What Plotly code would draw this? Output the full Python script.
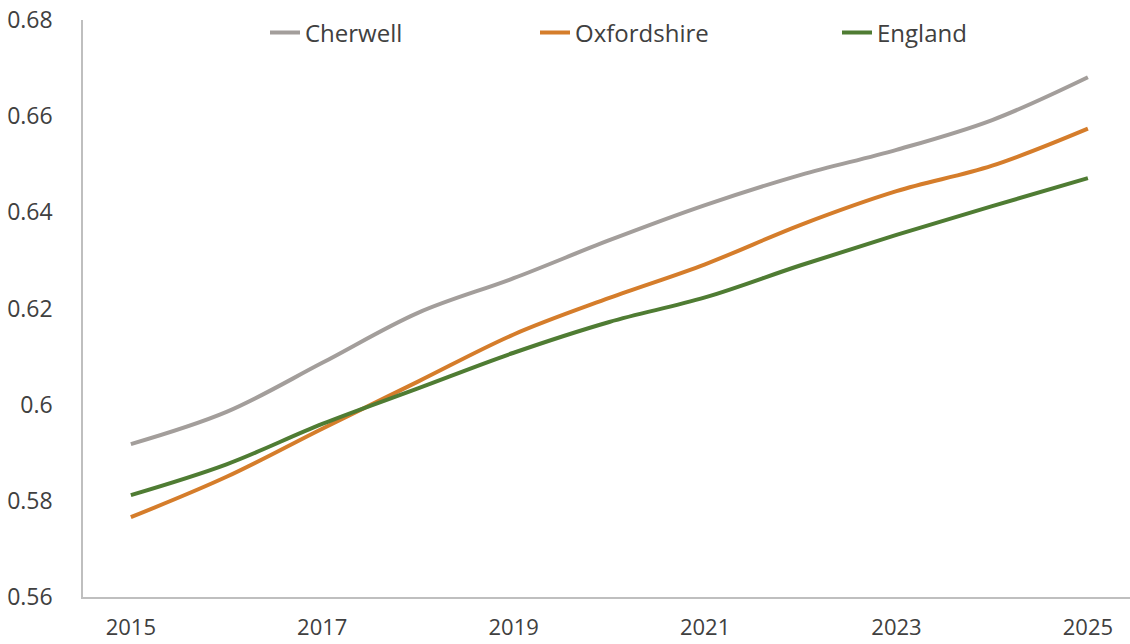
import plotly.graph_objects as go

years = [2015, 2016, 2017, 2018, 2019, 2020, 2021, 2022, 2023, 2024, 2025]
cherwell = [0.5918, 0.5985, 0.6087, 0.6191, 0.6263, 0.6342, 0.6415, 0.6478, 0.6530, 0.6592, 0.6681]
oxfordshire = [0.5766, 0.5850, 0.5950, 0.6048, 0.6146, 0.6222, 0.6292, 0.6374, 0.6444, 0.6497, 0.6574]
england = [0.5812, 0.5876, 0.5960, 0.6034, 0.6108, 0.6172, 0.6223, 0.6290, 0.6353, 0.6413, 0.6471]

series_names = ["Cherwell", "Oxfordshire", "England"]
series_values = [cherwell, oxfordshire, england]
series_colors = ["#A39E9B", "#D57D2B", "#4F7C33"]
legend_ids = ["legend", "legend2", "legend3"]
legend_x_px = [265, 535, 837]

x_tickvals = [2015, 2017, 2019, 2021, 2023, 2025]
y_tickvals = [0.56, 0.58, 0.60, 0.62, 0.64, 0.66, 0.68]
y_ticktext = ["0.56", "0.58", "0.6", "0.62", "0.64", "0.66", "0.68"]

W, H = 1130, 644
FONT = "Open Sans"
TXT = "#404040"

fig = go.Figure()
for name, vals, col, lg in zip(series_names, series_values, series_colors, legend_ids):
    fig.add_trace(go.Scatter(
        x=years, y=vals, name=name, mode="lines",
        line=dict(color=col, width=4, shape="spline", smoothing=1.0),
        legend=lg,
    ))

legend_common = dict(
    orientation="h", xref="container", yref="container",
    yanchor="middle", y=1 - 33 / H, xanchor="left",
    font=dict(family=FONT, size=24, color=TXT),
    bgcolor="rgba(0,0,0,0)", borderwidth=0,
)
layout_legends = {}
for lg, px in zip(legend_ids, legend_x_px):
    layout_legends[lg] = dict(legend_common, x=px / W)

fig.update_layout(
    width=W, height=H,
    margin=dict(l=83, r=0, t=20, b=47, autoexpand=False),
    paper_bgcolor="white", plot_bgcolor="white",
    font=dict(family=FONT, size=23, color=TXT),
    showlegend=True,
    xaxis=dict(
        range=[2014.5, 2025.44], tickmode="array", tickvals=x_tickvals,
        ticktext=[str(v) for v in x_tickvals],
        showgrid=False, zeroline=False, showline=True,
        linecolor="#BFBFBF", linewidth=1.5, ticks="",
        ticklabelstandoff=10,
        tickfont=dict(family=FONT, size=22, color=TXT),
    ),
    yaxis=dict(
        range=[0.56, 0.68], tickmode="array", tickvals=y_tickvals,
        ticktext=y_ticktext,
        showgrid=False, zeroline=False, showline=True,
        linecolor="#BFBFBF", linewidth=1.5, ticks="",
        ticklabelstandoff=24,
        tickfont=dict(family=FONT, size=23, color=TXT),
    ),
    **layout_legends,
)

fig.write_html("out.html")
